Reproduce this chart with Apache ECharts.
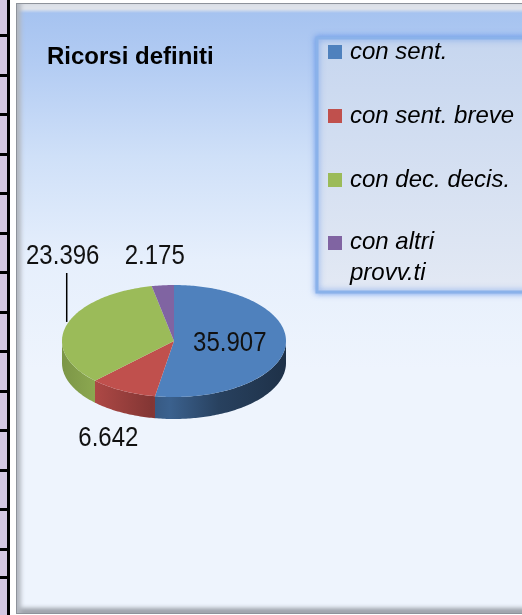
<!DOCTYPE html>
<html>
<head>
<meta charset="utf-8">
<script src="https://cdn.jsdelivr.net/npm/echarts@6/dist/echarts.min.js"></script>
<style>
  html, body { margin: 0; padding: 0; background: #fff; }
  body { width: 522px; height: 615px; position: relative; overflow: hidden; }
  /* striscia della tabella a sinistra */
  #strip {
    position: absolute; left: 0; top: 0; width: 7px; height: 576px;
    background: repeating-linear-gradient(to bottom, #d3c7e1 0px, #d3c7e1 36.5px, #000 36.5px, #000 39.5px);
    background-position: 0 -2px;
    border-right: 3px solid #000;
  }
  #cell {
    position: absolute; left: 0; top: 576px; width: 7px; height: 40px;
    background: #d3c7e1; border-top: 3px solid #000; border-right: 3px solid #000;
  }
  #panel {
    position: absolute; left: 16px; top: 3px; width: 560px; height: 609px;
    border: 1px solid #8e939b;
    background: linear-gradient(to bottom, #dfe3ea 0px, #dfe3ea 5px, #a6c3f0 9px, #b3ccf3 10%, #cfe0f8 25%, #e6effc 42%, #eef4fd 60%, #eef4fd 100%);
    box-shadow: inset 6px 0 4px -2px #b3b8c1, inset 0 -7px 4px -2px #9da2aa;
  }
  #chart { position: absolute; left: 0; top: 0; width: 522px; height: 615px; }
</style>
</head>
<body>
<div id="strip"></div>
<div id="cell"></div>
<div id="panel"></div>
<div id="chart"></div>
<script>
// dati
const categories = ['con sent.', 'con sent. breve', 'con dec. decis.', 'con altri provv.ti'];
const values = [35907, 6642, 23396, 2175];
const colors = ['#4f81bd', '#c0504d', '#9bbb59', '#8064a2'];
// come viene messa l'etichetta di ogni fetta
const labelModes = ['inside', 'outside', 'lifted', 'outside'];

// geometria della torta (ellisse)
const CX = 174, CY = 341, RX = 112, RY = 56, DEPTH = 22;
const NUM_FONT = '24px "Liberation Sans", Arial, sans-serif';

const total = values.reduce((a, b) => a + b, 0);
const startAng = [], endAng = [];
let acc = 90;
values.forEach(function (v, i) {
    startAng[i] = acc;
    acc -= v / total * 360;
    endAng[i] = acc;
});

function fmt(v) {
    return String(v).replace(/\B(?=(\d{3})+(?!\d))/g, '.');
}

function pt(deg, dy, k) {
    const r = deg * Math.PI / 180;
    k = k || 1;
    return [CX + RX * k * Math.cos(r), CY - RY * k * Math.sin(r) + (dy || 0)];
}

function arc(a0, a1, dy) {
    const pts = [];
    const n = Math.max(2, Math.ceil(Math.abs(a0 - a1)));
    for (let j = 0; j <= n; j++) pts.push(pt(a0 + (a1 - a0) * j / n, dy));
    return pts;
}

function shade(hex, f) {
    const n = parseInt(hex.slice(1), 16);
    const c = [(n >> 16) & 255, (n >> 8) & 255, n & 255].map(x => Math.round(x * f));
    return 'rgb(' + c.join(',') + ')';
}

function makeRender(i) {
    return function (params, api) {
        const v = api.value(0);
        const a0 = startAng[i], a1 = endAng[i];
        const children = [];

        // fianco (solo la metà davanti)
        const hi = Math.min(a0, 0), lo = Math.max(a1, -180);
        if (lo < hi) {
            const top = arc(hi, lo, 0);
            const bot = arc(lo, hi, DEPTH);
            children.push({
                type: 'polygon',
                shape: { points: top.concat(bot) },
                style: {
                    fill: new echarts.graphic.LinearGradient(CX - RX, 0, CX + RX, 0, [
                        { offset: 0, color: shade(colors[i], 0.8) },
                        { offset: 0.15, color: shade(colors[i], 0.9) },
                        { offset: 0.4, color: shade(colors[i], 0.68) },
                        { offset: 0.48, color: shade(colors[i], 0.75) },
                        { offset: 0.7, color: shade(colors[i], 0.5) },
                        { offset: 1, color: shade(colors[i], 0.38) }
                    ], true)
                }
            });
        }

        // faccia superiore
        children.push({
            type: 'polygon',
            shape: { points: [[CX, CY]].concat(arc(a0, a1, 0)) },
            style: { fill: colors[i] }
        });

        // etichetta
        const mid = (a0 + a1) / 2;
        const mode = labelModes[i];
        let lx, ly;
        if (mode === 'inside') {
            [lx, ly] = pt(mid, 0, 0.5);
        } else if (mode === 'outside') {
            const r = mid * Math.PI / 180;
            const front = Math.sin(r) < 0;
            lx = CX + (RX + (front ? 31 : 80)) * Math.cos(r);
            ly = CY - (RY + 29) * Math.sin(r) + (front ? DEPTH : 0);
        } else {
            const anchor = pt(mid, -3);
            lx = anchor[0] - 4;
            ly = CY - RY - 28;
            children.push({
                type: 'line',
                shape: { x1: anchor[0], y1: anchor[1], x2: anchor[0], y2: ly + 16 },
                style: { stroke: '#000', lineWidth: 1.5 }
            });
        }
        children.push({
            type: 'text',
            x: lx, y: ly, scaleY: 1.12,
            style: { text: fmt(v), font: NUM_FONT, fill: '#111', align: 'center', verticalAlign: 'middle' }
        });

        return { type: 'group', children: children };
    };
}

const chart = echarts.init(document.getElementById('chart'));

const legendFont = '"Liberation Sans", Arial, sans-serif';

chart.setOption({
    animation: false,
    backgroundColor: 'transparent',
    title: {
        text: 'Ricorsi definiti',
        left: 47, top: 45, padding: 0,
        textStyle: { fontFamily: '"Liberation Sans", Arial, sans-serif', fontWeight: 'bold', fontSize: 24, color: '#000' }
    },
    graphic: [{
        type: 'rect',
        z: -10,
        shape: { x: 317, y: 38, width: 320, height: 254 },
        style: {
            fill: new echarts.graphic.LinearGradient(0, 0, 0, 1, [
                { offset: 0, color: '#c6d6ef' },
                { offset: 1, color: '#e3e9f4' }
            ]),
            stroke: '#8ab2ea', lineWidth: 3,
            shadowBlur: 6, shadowColor: 'rgba(90,140,230,0.8)'
        }
    }],
    legend: {
        orient: 'vertical',
        left: 328, top: 20, padding: 0, itemGap: 0,
        itemWidth: 14, itemHeight: 14, icon: 'rect',
        selectedMode: false,
        data: categories,
        formatter: function (name) {
            if (name === 'con altri provv.ti') return '{a|con altri}\n{b|provv.ti}';
            return name;
        },
        textStyle: {
            fontFamily: legendFont, fontStyle: 'italic', fontSize: 24, color: '#000', lineHeight: 64,
            padding: [0, 0, 0, 3],
            rich: {
                a: { fontFamily: legendFont, fontStyle: 'italic', fontSize: 24, color: '#000', lineHeight: 60 },
                b: { fontFamily: legendFont, fontStyle: 'italic', fontSize: 24, color: '#000', lineHeight: 2 }
            }
        }
    },
    series: categories.map(function (name, i) {
        return {
            name: name,
            type: 'custom',
            coordinateSystem: 'none',
            silent: true,
            itemStyle: { color: colors[i] },
            renderItem: makeRender(i),
            data: [values[i]]
        };
    })
});

window.addEventListener('resize', function () {
    chart.resize();
});
</script>
</body>
</html>
